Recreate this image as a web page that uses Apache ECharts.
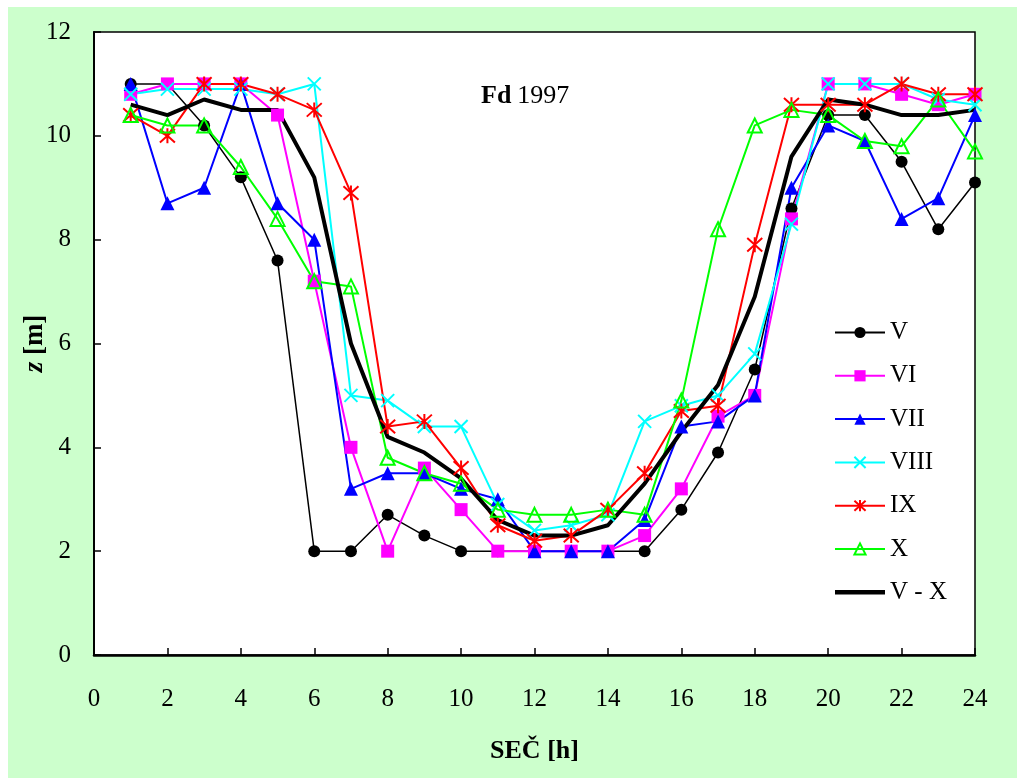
<!DOCTYPE html>
<html>
<head>
<meta charset="utf-8">
<script src="https://cdn.jsdelivr.net/npm/echarts@6/dist/echarts.min.js"></script>
<style>
html,body{margin:0;padding:0;background:#fff;}
#c{width:1017px;height:778px;}
</style>
</head>
<body>
<div id="c"></div>
<script>
const hours = [1,2,3,4,5,6,7,8,9,10,11,12,13,14,15,16,17,18,19,20,21,22,23,24];
const xTicks = [0,2,4,6,8,10,12,14,16,18,20,22,24];
const yTicks = [0,2,4,6,8,10,12];
const seriesNames = ['V','VI','VII','VIII','IX','X','V - X'];
const vV    = [11.0,11.0,10.2,9.2,7.6,2.0,2.0,2.7,2.3,2.0,2.0,2.0,2.0,2.0,2.0,2.8,3.9,5.5,8.6,10.4,10.4,9.5,8.2,9.1];
const vVI   = [10.8,11.0,11.0,11.0,10.4,7.2,4.0,2.0,3.6,2.8,2.0,2.0,2.0,2.0,2.3,3.2,4.6,5.0,8.4,11.0,11.0,10.8,10.6,10.8];
const vVII  = [11.0,8.7,9.0,11.0,8.7,8.0,3.2,3.5,3.5,3.2,3.0,2.0,2.0,2.0,2.6,4.4,4.5,5.0,9.0,10.2,9.9,8.4,8.8,10.4];
const vVIII = [10.8,10.9,10.9,10.9,10.8,11.0,5.0,4.9,4.4,4.4,2.9,2.4,2.5,2.7,4.5,4.8,5.0,5.8,8.3,11.0,11.0,11.0,10.7,10.6];
const vIX   = [10.4,10.0,11.0,11.0,10.8,10.5,8.9,4.4,4.5,3.6,2.5,2.2,2.3,2.8,3.5,4.7,4.8,7.9,10.6,10.6,10.6,11.0,10.8,10.8];
const vX    = [10.4,10.2,10.2,9.4,8.4,7.2,7.1,3.8,3.5,3.3,2.8,2.7,2.7,2.8,2.7,4.9,8.2,10.2,10.5,10.4,9.9,9.8,10.7,9.7];
const vAvg  = [10.6,10.4,10.7,10.5,10.5,9.2,6.0,4.2,3.9,3.4,2.6,2.3,2.3,2.5,3.3,4.3,5.2,6.9,9.6,10.7,10.6,10.4,10.4,10.5];

const pairs = arr => hours.map((h,i)=>[h,arr[i]]);
const FONT = '"Liberation Serif","Times New Roman",serif';
const crossPath = 'path://M0,0L10,10M10,0L0,10';
const starPath = 'path://M5,0L5,10M0.5,0.5L9.5,9.5M9.5,0.5L0.5,9.5';

function mk(name, data, color, symbol, size, opts) {
  opts = opts || {};
  return {
    name: name, type: 'line', data: pairs(data),
    symbol: symbol, symbolSize: size, showAllSymbol: true,
    lineStyle: {color: color, width: opts.lw || 2},
    itemStyle: opts.itemStyle || {color: color},
    emphasis: {disabled: true},
    z: 2
  };
}

const legendData = seriesNames.map(n => n === 'V - X'
  ? {name: n, icon: 'path://M0,0L50,0L50,4.5L0,4.5Z', itemStyle: {color: '#000'}}
  : {name: n});

const chart = echarts.init(document.getElementById('c'), null, {renderer: 'canvas'});
chart.setOption({
  animation: false,
  backgroundColor: '#fff',
  graphic: [
    {type: 'rect', z: -10, shape: {x: 8, y: 7, width: 1017, height: 778}, style: {fill: '#CCFFCC'}},
    {type: 'text', left: 481, top: 83, z: 10,
     style: {rich: {b: {fontFamily: FONT, fontWeight: 'bold', fontSize: 26, fill: '#000'},
                    n: {fontFamily: FONT, fontSize: 26, fill: '#000', padding: [0, 0, 0, 6]}},
             text: '{b|Fd}{n|1997}'}}
  ],
  grid: {left: 94, right: 42, top: 32, bottom: 123, show: true, backgroundColor: '#fff', borderColor: '#000', borderWidth: 1.5, containLabel: false},
  legend: {
    orient: 'vertical', left: 829, top: 315,
    itemWidth: 50, itemHeight: 14, itemGap: 18.3,
    symbolKeepAspect: true,
    textStyle: {fontFamily: FONT, fontSize: 25, lineHeight: 25, color: '#000'},
    data: legendData
  },
  xAxis: {
    type: 'value', min: 0, max: 24, interval: 2,
    name: 'SEČ [h]', nameLocation: 'middle', nameGap: 83, nameMoveOverlap: false,
    nameTextStyle: {fontFamily: FONT, fontSize: 26, fontWeight: 'bold', color: '#000'},
    axisLine: {lineStyle: {color: '#000', width: 2.5}},
    axisTick: {inside: true, length: 7, lineStyle: {color: '#000', width: 1.5}},
    axisLabel: {fontFamily: FONT, fontSize: 25, color: '#000', margin: 32,
                formatter: v => xTicks.includes(v) ? String(v) : ''},
    splitLine: {show: false}
  },
  yAxis: {
    type: 'value', min: 0, max: 12, interval: 2,
    name: '{i|z} {b|[m]}', nameLocation: 'middle', nameGap: 45, nameRotate: 90, nameMoveOverlap: false,
    nameTextStyle: {fontFamily: FONT, fontSize: 27, fontWeight: 'bold', color: '#000',
      rich: {i: {fontFamily: FONT, fontSize: 27, fontWeight: 'bold', fontStyle: 'italic', color: '#000'},
             b: {fontFamily: FONT, fontSize: 27, fontWeight: 'bold', color: '#000'}}},
    axisLine: {lineStyle: {color: '#000', width: 2}},
    axisTick: {inside: true, length: 7, lineStyle: {color: '#000', width: 1.5}},
    axisLabel: {fontFamily: FONT, fontSize: 25, color: '#000', margin: 23,
                formatter: v => yTicks.includes(v) ? String(v) : ''},
    splitLine: {show: false}
  },
  series: [
    mk('V', vV, '#000000', 'circle', 12, {lw: 1.5}),
    mk('VI', vVI, '#FF00FF', 'rect', 13),
    mk('VII', vVII, '#0000FF', 'triangle', 14),
    mk('VIII', vVIII, '#00FFFF', crossPath, 13, {itemStyle: {color: 'rgba(0,0,0,0)', borderColor: '#00FFFF', borderWidth: 2}}),
    mk('IX', vIX, '#FF0000', starPath, 15, {itemStyle: {color: 'rgba(0,0,0,0)', borderColor: '#FF0000', borderWidth: 2}}),
    mk('X', vX, '#00FF00', 'triangle', 14, {itemStyle: {color: 'rgba(0,0,0,0)', borderColor: '#00FF00', borderWidth: 2}}),
    mk('V - X', vAvg, '#000000', 'none', 0, {lw: 4})
  ]
});
</script>
</body>
</html>
